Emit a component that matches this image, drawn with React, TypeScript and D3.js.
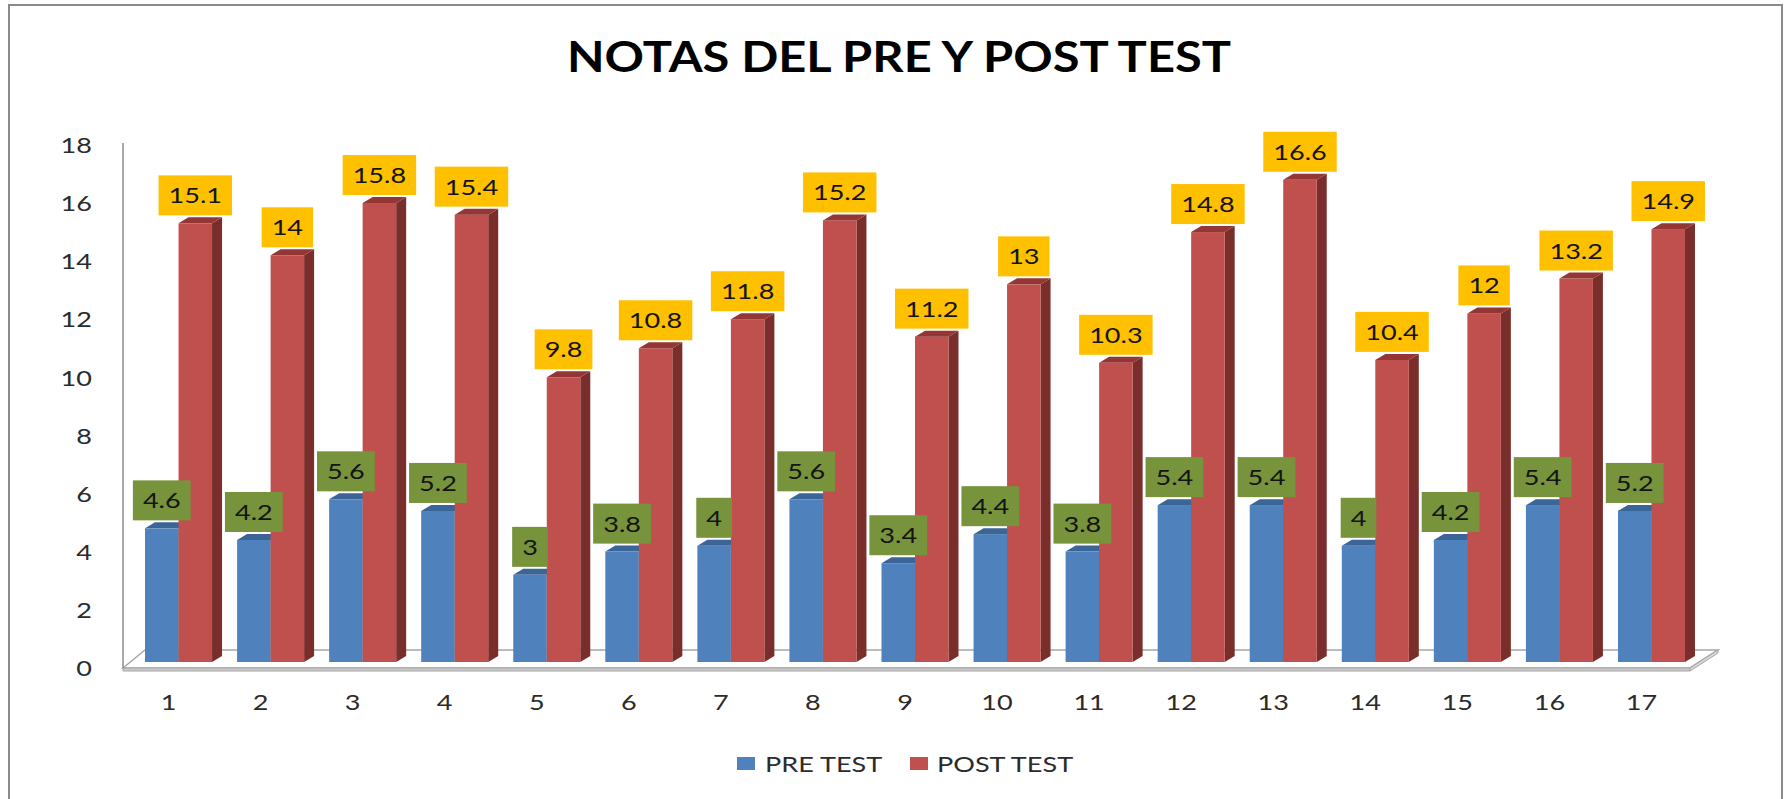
import React, { useEffect, useRef } from "react";
import * as d3 from "d3";

const categories = ["1", "2", "3", "4", "5", "6", "7", "8", "9", "10", "11", "12", "13", "14", "15", "16", "17"];
const preTest = [4.6, 4.2, 5.6, 5.2, 3, 3.8, 4, 5.6, 3.4, 4.4, 3.8, 5.4, 5.4, 4, 4.2, 5.4, 5.2];
const postTest = [15.1, 14, 15.8, 15.4, 9.8, 10.8, 11.8, 15.2, 11.2, 13, 10.3, 14.8, 16.6, 10.4, 12, 13.2, 14.9];
const seriesNames = ["PRE TEST", "POST TEST"];
const yTicks = [0, 2, 4, 6, 8, 10, 12, 14, 16, 18];

const WIDTH = 1784;
const HEIGHT = 799;
const DX = 10; // bar depth offset
const DY = -6;
const SX = 1.23; // the original is stretched horizontally
const FONT = "Lato, 'Open Sans', sans-serif";

const colors = {
  "PRE TEST": { front: "#4F81BD", top: "#3B6597", side: "#2E4F78", label: "#77933C" },
  "POST TEST": { front: "#C0504D", top: "#943634", side: "#7A2E2C", label: "#FFC000" },
};

const App = () => {
  const svgRef = useRef<SVGSVGElement>(null);

  useEffect(() => {
    document.body.style.margin = "0";
    const svg = d3.select(svgRef.current);
    svg.selectAll("*").remove();

    // stretched text helper
    const addText = (g: any, x: number, y: number, str: string, size: number, anchor: string) =>
      g
        .append("text")
        .attr("transform", `translate(${x},${y}) scale(${SX},1)`)
        .attr("text-anchor", anchor)
        .attr("font-family", FONT)
        .attr("font-size", size)
        .attr("fill", "#2b2b2b")
        .text(str);

    // Outer border
    svg
      .append("rect")
      .attr("x", 9)
      .attr("y", 5)
      .attr("width", 1773)
      .attr("height", 900)
      .attr("fill", "#fff")
      .attr("stroke", "#8a8a8a")
      .attr("stroke-width", 2);

    // Title
    svg
      .append("text")
      .attr("x", 899)
      .attr("y", 72)
      .attr("text-anchor", "middle")
      .attr("font-family", FONT)
      .attr("font-weight", 700)
      .attr("font-size", 42)
      .attr("textLength", 664)
      .attr("lengthAdjust", "spacingAndGlyphs")
      .attr("fill", "#000")
      .text("NOTAS DEL PRE Y POST TEST");

    // Scales
    const x = d3
      .scaleBand()
      .domain(categories)
      .range([132.5, 1697.5])
      .paddingInner(0.272)
      .paddingOuter(0.136);
    const xs = d3.scaleBand().domain(seriesNames).range([0, x.bandwidth()]);
    const y = d3.scaleLinear().domain([0, 18]).range([662, 662 - 18 * 29.05]);

    // Floor
    const [r0, r1] = x.range();
    const fl = r0 - 9.5;
    const fr = r1 - 7.5;
    const ff = y(0) + 6;
    const fb = y(0) - 12;
    const floor = svg.append("g");
    floor
      .append("polygon")
      .attr("points", `${fl},${ff} ${fl + 22},${fb} ${fr + 28},${fb} ${fr},${ff}`)
      .attr("fill", "#fff")
      .attr("stroke", "#a6a6a6")
      .attr("stroke-width", 1.5);
    floor
      .append("polygon")
      .attr("points", `${fl},${ff} ${fr},${ff} ${fr},${ff + 3} ${fl},${ff + 3}`)
      .attr("fill", "#c9c9c9")
      .attr("stroke", "#a6a6a6")
      .attr("stroke-width", 1);
    floor
      .append("polygon")
      .attr("points", `${fr},${ff} ${fr + 28},${fb} ${fr + 28},${fb + 3} ${fr},${ff + 3}`)
      .attr("fill", "#d9d9d9")
      .attr("stroke", "#a6a6a6")
      .attr("stroke-width", 1);

    // Value axis line
    svg
      .append("line")
      .attr("x1", fl)
      .attr("x2", fl)
      .attr("y1", y(18) + 4)
      .attr("y2", ff)
      .attr("stroke", "#8c8c8c")
      .attr("stroke-width", 1.5);

    // Y tick labels
    const yAxis = svg.append("g");
    yTicks.forEach((t) => addText(yAxis, 92, y(t) + 14, String(t), 22, "end"));

    // X tick labels
    const xAxis = svg.append("g");
    categories.forEach((c) => addText(xAxis, x(c)! + x.bandwidth() / 2 - 10, 710, c, 22, "middle"));

    // Bars
    const bars = svg.append("g");
    const barInfo: { x0: number; w: number; yt: number; v: number; s: string }[] = [];
    categories.forEach((c, i) => {
      [preTest[i], postTest[i]].forEach((v, k) => {
        const s = seriesNames[k];
        const col = (colors as any)[s];
        const x0 = x(c)! + xs(s)!;
        const w = xs.bandwidth();
        const yt = y(v);
        const yb = y(0);
        bars
          .append("polygon")
          .attr("points", `${x0 + w},${yt} ${x0 + w + DX},${yt + DY} ${x0 + w + DX},${yb + DY} ${x0 + w},${yb}`)
          .attr("fill", col.side);
        bars
          .append("rect")
          .attr("x", x0)
          .attr("y", yt)
          .attr("width", w)
          .attr("height", yb - yt)
          .attr("fill", col.front);
        bars
          .append("polygon")
          .attr("points", `${x0},${yt} ${x0 + DX},${yt + DY} ${x0 + w + DX},${yt + DY} ${x0 + w},${yt}`)
          .attr("fill", col.top);
        barInfo.push({ x0, w, yt, v, s });
      });
    });

    // Data labels
    const labels = svg.append("g");
    barInfo.forEach(({ x0, w, yt, v, s }) => {
      const g = labels.append("g");
      const rect = g.append("rect");
      const cx = x0 + w / 2;
      const txt = addText(g, cx, yt - 20, String(v), 22, "middle").attr("fill", "#141414");
      const tw = (txt.node() as SVGTextElement).getBBox().width * SX;
      rect
        .attr("x", cx - tw / 2 - 10)
        .attr("y", yt - 48)
        .attr("width", tw + 20)
        .attr("height", 40)
        .attr("fill", (colors as any)[s].label);
    });

    // Legend
    const legend = svg.append("g");
    const legendPos = [
      { rx: 737, tx: 765 },
      { rx: 910, tx: 937 },
    ];
    seriesNames.forEach((s, i) => {
      legend
        .append("rect")
        .attr("x", legendPos[i].rx)
        .attr("y", 757)
        .attr("width", 18)
        .attr("height", 13)
        .attr("fill", (colors as any)[s].front);
      addText(legend, legendPos[i].tx, 772, s, 22, "start");
    });
  }, []);

  return <svg ref={svgRef} width={WIDTH} height={HEIGHT} style={{ display: "block" }} />;
};

export default App;
